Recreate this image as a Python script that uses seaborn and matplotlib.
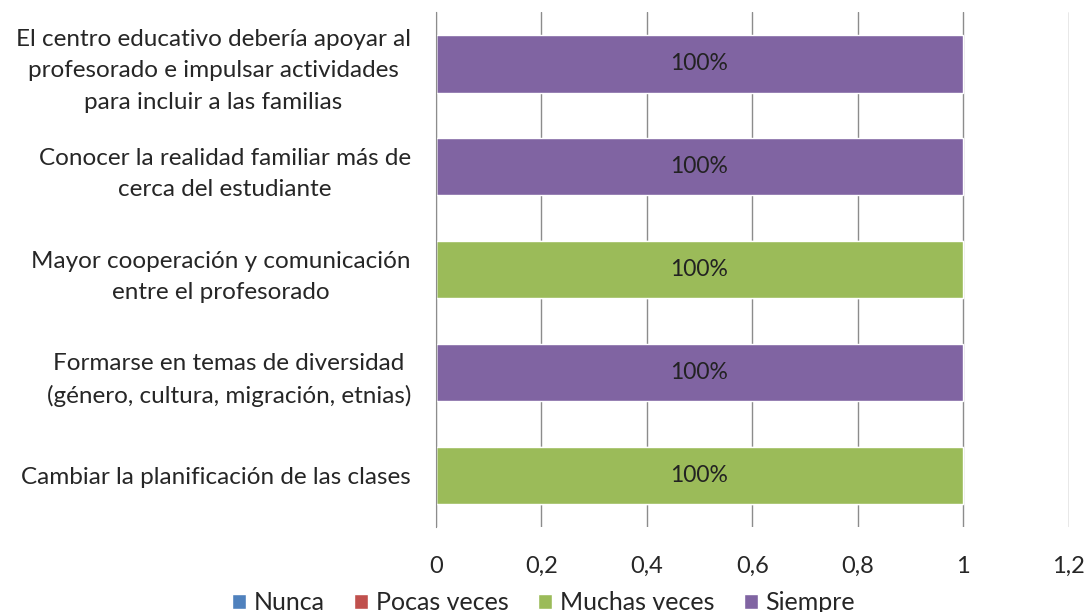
import pandas as pd
import numpy as np
import matplotlib
matplotlib.use("Agg")
import matplotlib.pyplot as plt
from matplotlib.patches import Patch
import seaborn as sns

# categories, top to bottom
categories = [
    "El centro educativo debería apoyar al\nprofesorado e impulsar actividades\npara incluir a las familias",
    "Conocer la realidad familiar más de\ncerca del estudiante",
    "Mayor cooperación y comunicación\nentre el profesorado",
    "Formarse en temas de diversidad\n(género, cultura, migración, etnias)",
    "Cambiar la planificación de las clases",
]
series = ["Nunca", "Pocas veces", "Muchas veces", "Siempre"]
nunca = [0, 0, 0, 0, 0]
pocas = [0, 0, 0, 0, 0]
muchas = [0, 0, 1, 0, 1]
siempre = [1, 1, 0, 1, 0]
colors = ["#4F81BD", "#C0504D", "#9BBB59", "#8064A2"]
xticks = [0, 0.2, 0.4, 0.6, 0.8, 1, 1.2]
xticklabels = ["0", "0,2", "0,4", "0,6", "0,8", "1", "1,2"]

sns.set_style("white")
plt.rcParams["font.family"] = ["Lato", "DejaVu Sans"]

df = pd.DataFrame({"cat": categories, "Nunca": nunca, "Pocas veces": pocas,
                   "Muchas veces": muchas, "Siempre": siempre})
cum = df[series].cumsum(axis=1)

fig = plt.figure(figsize=(10.87, 6.12), dpi=100)
ax = fig.add_axes([0.401, 0.139, 0.582, 0.841])

# draw cumulative totals from the widest down so the bars look stacked
for s, c in reversed(list(zip(series, colors))):
    sns.barplot(x=cum[s], y=df["cat"], color=c, orient="h", width=0.56,
                saturation=1, ax=ax, zorder=2)

# value labels in the middle of each non-zero segment
for i, row in df.iterrows():
    left = 0
    for s in series:
        v = row[s]
        if v > 0:
            ax.text(left + v / 2, i, f"{v:.0%}", ha="center", va="center",
                    fontsize=16.5, color="#222222", zorder=3)
        left += v

ax.set_xlim(0, 1.2)
ax.set_xticks(xticks)
ax.set_xticklabels(xticklabels)
ax.set_xlabel("")
ax.set_ylabel("")
ax.xaxis.grid(True, color="#8c8c8c", linewidth=1)
ax.set_axisbelow(True)
for side in ["top", "right", "bottom"]:
    ax.spines[side].set_visible(False)
ax.spines["left"].set_color("#8c8c8c")
ax.tick_params(axis="x", length=0, pad=21, labelsize=17)
ax.tick_params(axis="y", length=0, pad=18, labelsize=17.5)
for lab in ax.get_yticklabels():
    lab.set_multialignment("center")
    lab.set_linespacing(1.6)

handles = [Patch(facecolor=c, label=s) for s, c in zip(series, colors)]
fig.legend(handles=handles, loc="lower center", bbox_to_anchor=(0.5, -0.04),
           ncol=4, frameon=False, fontsize=18, handlelength=0.55,
           handleheight=0.55, columnspacing=1.2, handletextpad=0.3)

fig.savefig("out.png", dpi=100)
